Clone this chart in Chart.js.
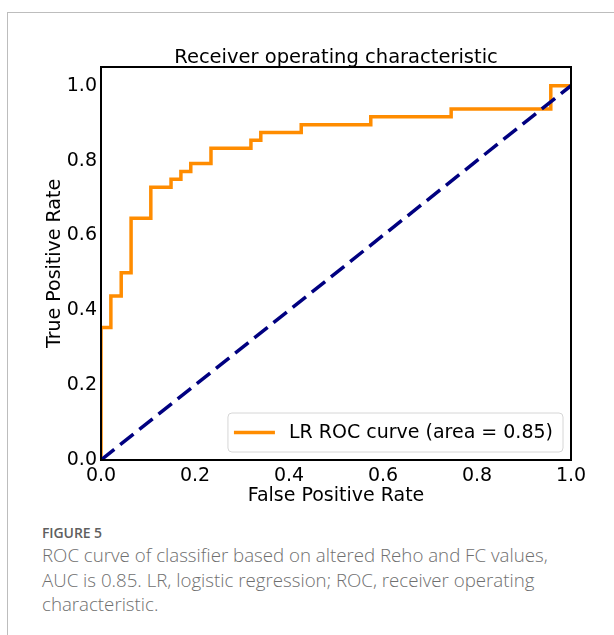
<!DOCTYPE html>
<html>
<head>
<meta charset="utf-8">
<script src="https://cdn.jsdelivr.net/npm/chart.js@4.4.0/dist/chart.umd.min.js"></script>
<style>
    html, body { margin: 0; padding: 0; background: #fff; overflow: hidden; }
    body { width: 614px; height: 635px; position: relative; }
    .frame {
        position: absolute; left: 7px; top: 12px; width: 700px; height: 700px;
        border-left: 1px solid #bdbdbd; border-top: 1px solid #bdbdbd;
    }
    .chart-box { position: absolute; left: 0; top: 0; width: 614px; height: 510px; }
    .fig-label {
        position: absolute; left: 42px; top: 523px;
        font-family: "Open Sans", sans-serif; font-weight: 600; font-size: 14px;
        color: #5f5f5f; letter-spacing: -0.1px;
    }
    .caption {
        position: absolute; left: 42px; top: 543px;
        font-family: "Open Sans", sans-serif; font-weight: 300; font-size: 18.7px;
        line-height: 24.5px; color: #6f6f6f; white-space: nowrap;
    }
</style>
</head>
<body>
<div class="frame"></div>
<div class="chart-box"><canvas id="roc"></canvas></div>
<div class="fig-label">FIGURE 5</div>
<div class="caption">ROC curve of classifier based on altered Reho and FC values,<br>AUC is 0.85. LR, logistic regression; ROC, receiver operating<br>characteristic.</div>

<script>
// ROC corner points, drawn as a step line
const fpr = [0, 0, 0.021, 0.043, 0.064, 0.106, 0.149, 0.170, 0.191, 0.234, 0.319, 0.340, 0.426, 0.574, 0.745, 0.957, 1.0];
const tpr = [0, 0.354, 0.438, 0.500, 0.646, 0.729, 0.750, 0.771, 0.792, 0.833, 0.854, 0.875, 0.896, 0.917, 0.938, 1.0, 1.0];
const chanceX = [0, 1];
const chanceY = [0, 1];
const rocLabel = "LR ROC curve (area = 0.85)";
const titleText = "Receiver operating characteristic";

const FONT = "'DejaVu Sans', sans-serif";

// black box around the plot, like matplotlib spines
const spinesPlugin = {
    id: "spines",
    afterDatasetsDraw(chart) {
        const { ctx, chartArea: a } = chart;
        ctx.save();
        ctx.strokeStyle = "#000";
        ctx.lineWidth = 2;
        ctx.strokeRect(a.left, a.top, a.right - a.left, a.bottom - a.top);
        ctx.restore();
    }
};

// legend box in the lower right corner of the plot
const innerLegend = {
    id: "innerLegend",
    afterDraw(chart) {
        const { ctx, chartArea: a } = chart;
        const ds = chart.data.datasets[0];
        ctx.save();
        ctx.font = "19px " + FONT;
        const tw = ctx.measureText(ds.label).width;
        const h = 39;
        const w = 61 + tw + 10;
        const x = a.right - 8 - w;
        const y = a.bottom - 8 - h;
        ctx.beginPath();
        ctx.roundRect(x, y, w, h, 4);
        ctx.fillStyle = "rgba(255,255,255,0.8)";
        ctx.fill();
        ctx.strokeStyle = "#d6d6d6";
        ctx.lineWidth = 1;
        ctx.stroke();
        ctx.beginPath();
        ctx.moveTo(x + 6, y + h / 2);
        ctx.lineTo(x + 47, y + h / 2);
        ctx.strokeStyle = ds.borderColor;
        ctx.lineWidth = ds.borderWidth;
        ctx.stroke();
        ctx.fillStyle = "#000";
        ctx.textBaseline = "middle";
        ctx.fillText(ds.label, x + 61, y + h / 2 + 1);
        ctx.restore();
    }
};

new Chart(document.getElementById("roc"), {
    type: "scatter",
    data: {
        datasets: [
            {
                label: rocLabel,
                data: fpr.map((v, i) => ({ x: v, y: tpr[i] })),
                showLine: true,
                stepped: true,
                borderColor: "#ff8c00",
                borderWidth: 3.5,
                pointRadius: 0,
                order: 2
            },
            {
                label: "chance",
                data: chanceX.map((v, i) => ({ x: v, y: chanceY[i] })),
                showLine: true,
                borderColor: "#000080",
                borderWidth: 3.5,
                borderDash: [17, 7.5],
                pointRadius: 0,
                order: 1
            }
        ]
    },
    options: {
        responsive: true,
        maintainAspectRatio: false,
        animation: false,
        layout: { padding: { left: 0, right: 43, top: 0, bottom: 0 } },
        plugins: {
            legend: { display: false },
            tooltip: { enabled: false }
        },
        scales: {
            x: {
                type: "linear", position: "bottom", min: 0, max: 1,
                grid: { display: false, drawTicks: false },
                border: { display: false },
                ticks: { stepSize: 0.2, padding: 5, color: "#000", font: { family: FONT, size: 19 },
                    callback: v => v.toFixed(1) },
                title: { display: true, text: "False Positive Rate", color: "#000",
                    font: { family: FONT, size: 19 }, padding: { top: 0, bottom: 3 } },
                afterFit: s => { s.height = 50; }
            },
            x2: {
                type: "linear", position: "top", min: 0, max: 1,
                grid: { display: false, drawTicks: false },
                border: { display: false },
                ticks: { display: false },
                title: { display: true, text: titleText, color: "#000",
                    font: { family: FONT, size: 19.5 }, padding: { top: 46, bottom: 0 } },
                afterFit: s => { s.height = 67; }
            },
            y: {
                type: "linear", position: "left", min: 0, max: 1.05,
                grid: { display: false, drawTicks: false },
                border: { display: false },
                ticks: { stepSize: 0.2, includeBounds: false, padding: 4, color: "#000",
                    font: { family: FONT, size: 19 }, callback: v => v.toFixed(1) },
                title: { display: true, text: "True Positive Rate", color: "#000",
                    font: { family: FONT, size: 19 }, padding: { top: 44, bottom: 0 } },
                afterFit: s => { s.width = 101; }
            }
        }
    },
    plugins: [spinesPlugin, innerLegend]
});
</script>
</body>
</html>
